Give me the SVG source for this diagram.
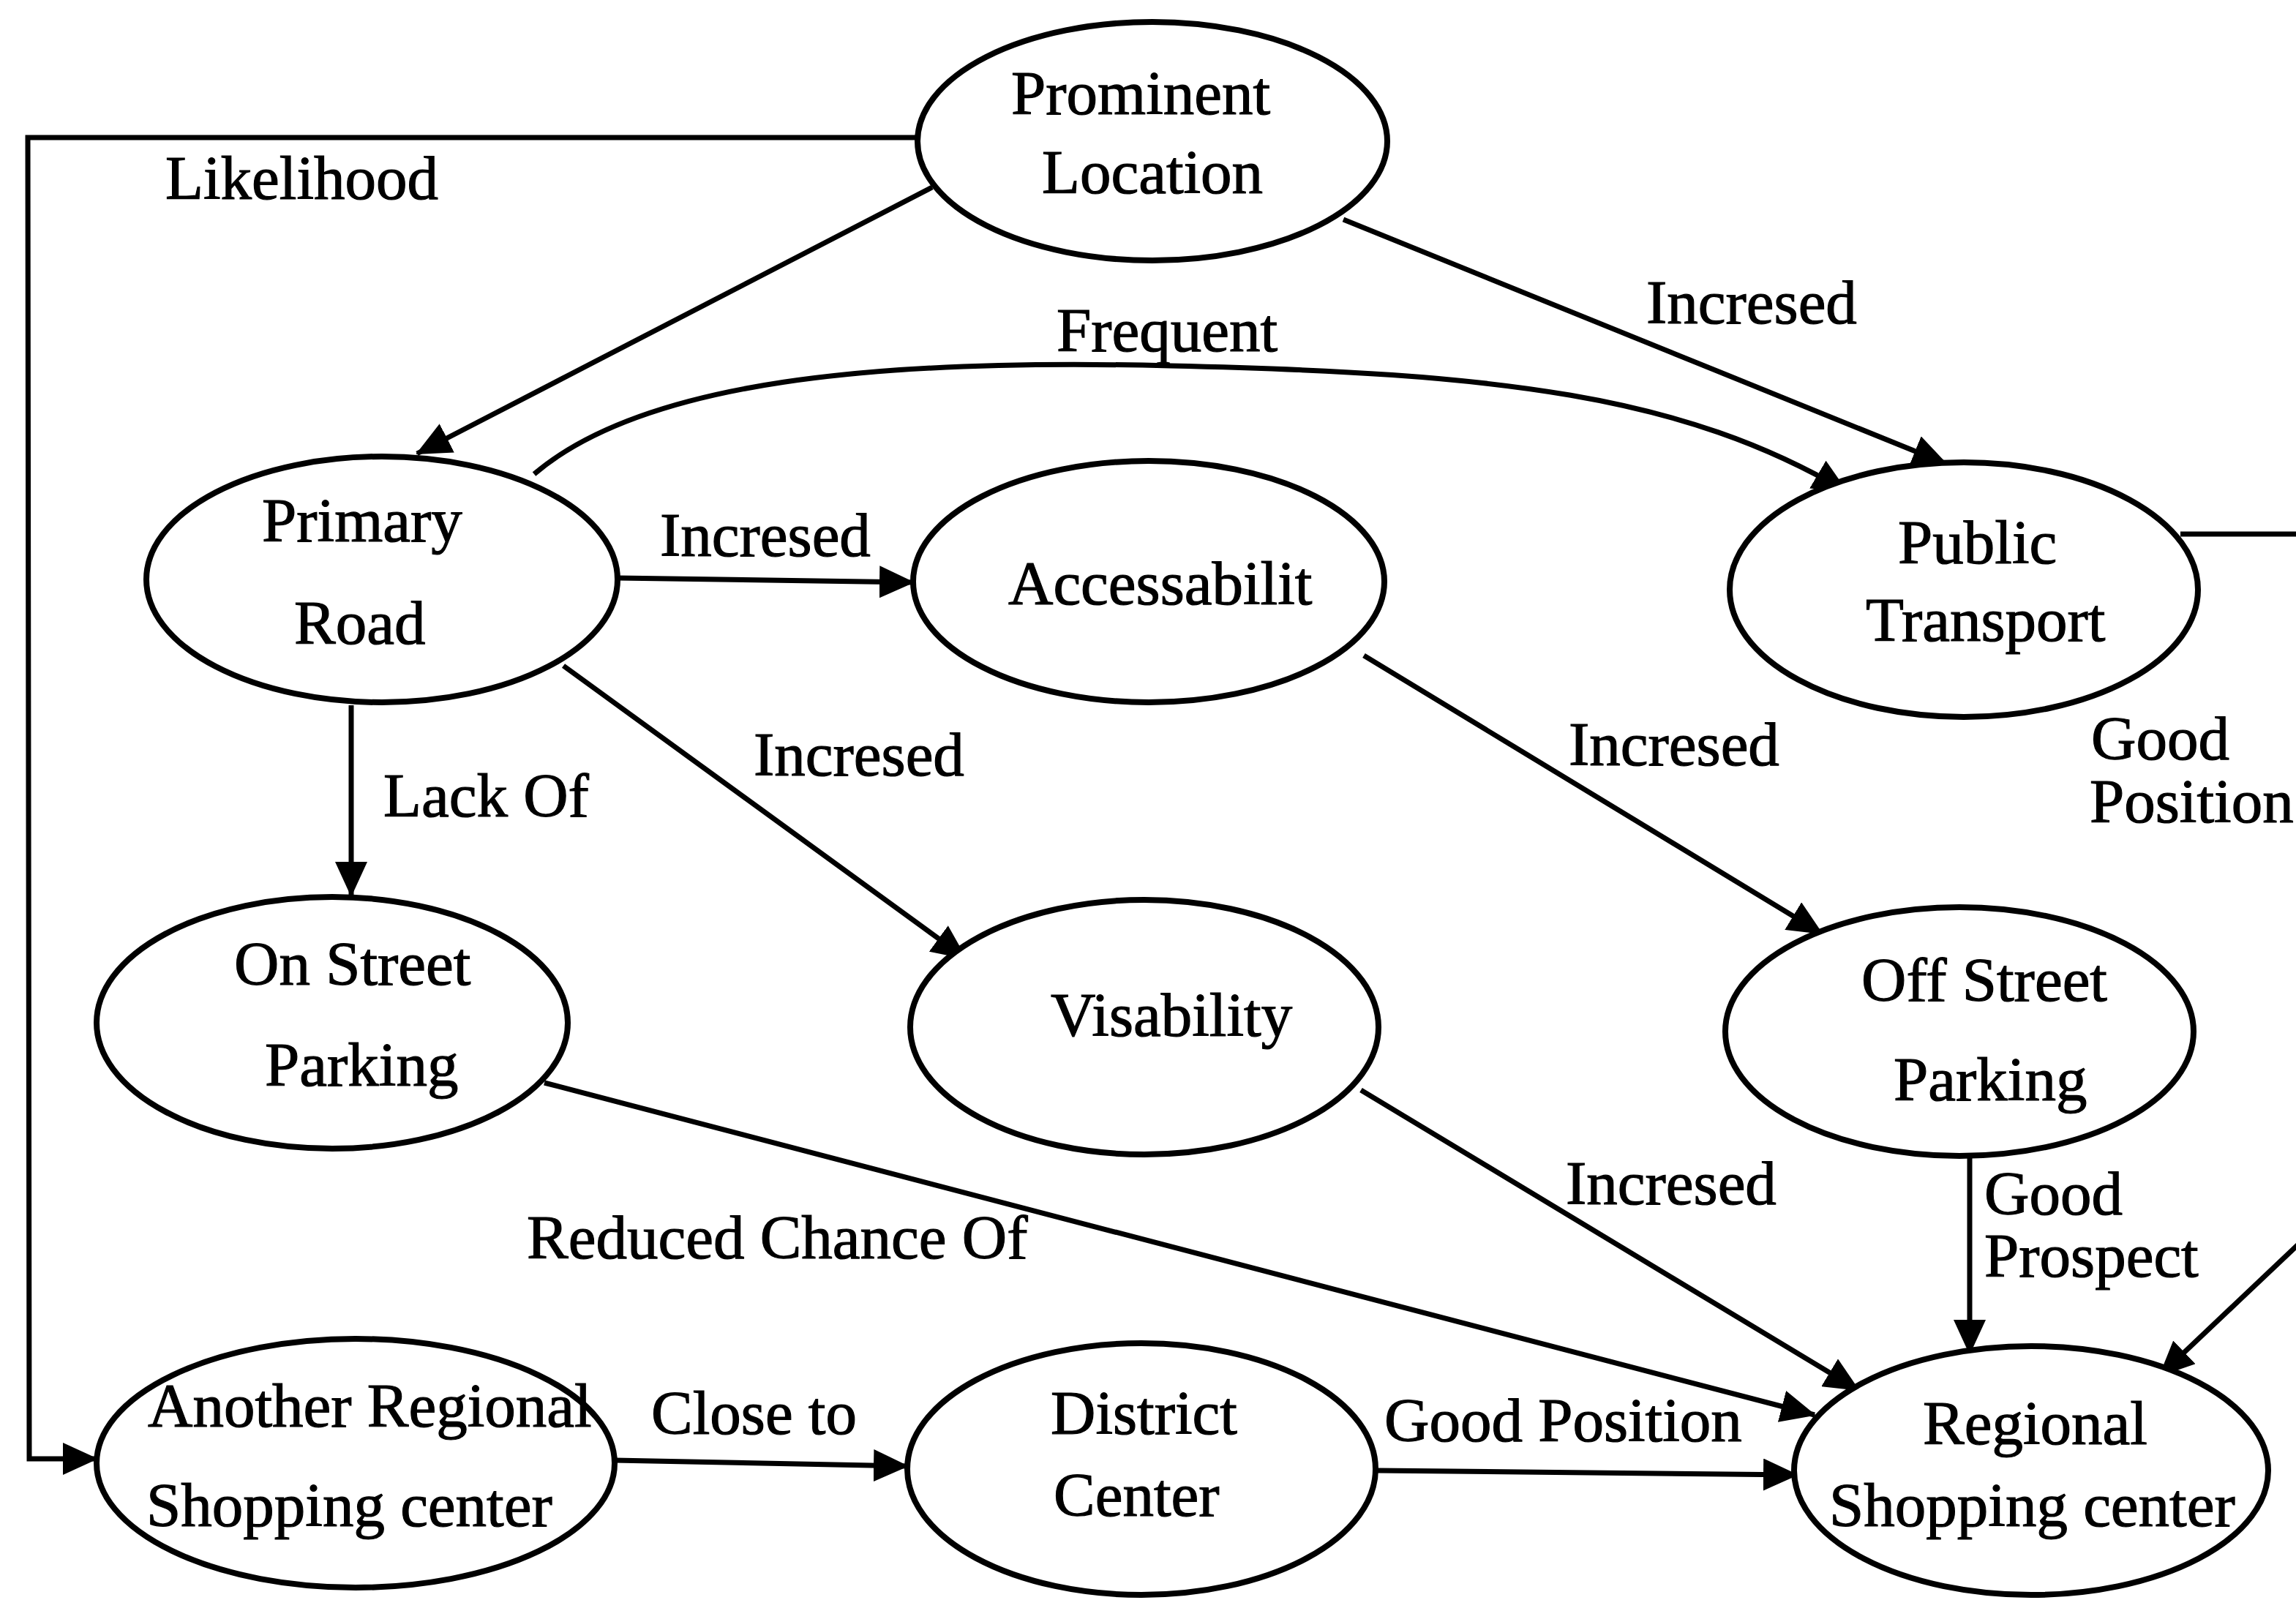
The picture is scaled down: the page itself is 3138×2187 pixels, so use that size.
<svg xmlns="http://www.w3.org/2000/svg" width="3138" height="2187" viewBox="0 0 3138 2187">
  <style>
    .node ellipse { fill: #fff; stroke: #000; stroke-width: 8; }
    text { font-family: "Liberation Serif", "Times New Roman", serif; font-size: 85px; fill: #000; stroke: #000; stroke-width: 1.2; }
    .edge { fill: none; stroke: #000; stroke-width: 7; }
  </style>
  <defs>
    <marker id="arrow" markerUnits="userSpaceOnUse" markerWidth="48" markerHeight="44" refX="46" refY="22" orient="auto">
      <path d="M0,0 L48,22 L0,44 Z" fill="#000"/>
    </marker>
  </defs>
  <rect width="3138" height="2187" fill="#fff"/>

  <!-- connectors -->
  <g id="connectors">
    <polyline class="edge" points="1254,188 38,188 40,1994 132,1994" marker-end="url(#arrow)"/>
    <line class="edge" x1="1274" y1="256" x2="570" y2="620" marker-end="url(#arrow)"/>
    <line class="edge" x1="1836" y1="300" x2="2660" y2="634" marker-end="url(#arrow)"/>
    <path class="edge" d="M730,648 C880,520 1200,490 1600,500 C2050,510 2300,540 2524,672" marker-end="url(#arrow)"/>
    <line class="edge" x1="844" y1="790" x2="1248" y2="796" marker-end="url(#arrow)"/>
    <line class="edge" x1="480" y1="964" x2="480" y2="1224" marker-end="url(#arrow)"/>
    <line class="edge" x1="770" y1="910" x2="1320" y2="1310" marker-end="url(#arrow)"/>
    <line class="edge" x1="1864" y1="896" x2="2490" y2="1276" marker-end="url(#arrow)"/>
    <polyline class="edge" points="2980,730 3160,730 3160,1683 2952,1880" marker-end="url(#arrow)"/>
    <line class="edge" x1="744" y1="1480" x2="2480" y2="1934" marker-end="url(#arrow)"/>
    <line class="edge" x1="1860" y1="1490" x2="2540" y2="1900" marker-end="url(#arrow)"/>
    <line class="edge" x1="2692" y1="1580" x2="2692" y2="1850" marker-end="url(#arrow)"/>
    <line class="edge" x1="840" y1="1996" x2="1240" y2="2004" marker-end="url(#arrow)"/>
    <line class="edge" x1="1882" y1="2010" x2="2456" y2="2016" marker-end="url(#arrow)"/>
  </g>

  <!-- connector labels -->
  <g id="labels">
    <text x="226" y="272">Likelihood</text>
    <text x="2250" y="442">Incresed</text>
    <text x="1444" y="480">Frequent</text>
    <text x="902" y="760">Incresed</text>
    <text x="1030" y="1060">Incresed</text>
    <text x="524" y="1116">Lack Of</text>
    <text x="2144" y="1046">Incresed</text>
    <text><tspan x="2858" y="1038">Good</tspan><tspan x="2856" y="1124">Position</tspan></text>
    <text x="2140" y="1646">Incresed</text>
    <text><tspan x="2712" y="1660">Good</tspan><tspan x="2712" y="1745">Prospect</tspan></text>
    <text x="720" y="1720">Reduced Chance Of</text>
    <text x="890" y="1960">Close to</text>
    <text x="1892" y="1970">Good Position</text>
  </g>

  <!-- nodes -->
  <g id="prominent-location" class="node">
    <ellipse cx="1575" cy="193" rx="321" ry="163"/>
    <text x="1382" y="156">Prominent</text>
    <text x="1424" y="264">Location</text>
  </g>
  <g id="primary-road" class="node">
    <ellipse cx="522" cy="792" rx="322" ry="168"/>
    <text x="358" y="740">Primary</text>
    <text x="402" y="880">Road</text>
  </g>
  <g id="accessability" class="node">
    <ellipse cx="1570" cy="795" rx="322" ry="165"/>
    <text x="1378" y="826">Accessabilit</text>
  </g>
  <g id="public-transport" class="node">
    <ellipse cx="2684" cy="806" rx="320" ry="174"/>
    <text x="2594" y="770">Public</text>
    <text x="2550" y="876">Transport</text>
  </g>
  <g id="on-street-parking" class="node">
    <ellipse cx="454" cy="1398" rx="322" ry="172"/>
    <text x="320" y="1346">On Street</text>
    <text x="362" y="1484">Parking</text>
  </g>
  <g id="visability" class="node">
    <ellipse cx="1564" cy="1404" rx="320" ry="174"/>
    <text x="1436" y="1416">Visability</text>
  </g>
  <g id="off-street-parking" class="node">
    <ellipse cx="2678" cy="1410" rx="320" ry="170"/>
    <text x="2544" y="1368">Off Street</text>
    <text x="2588" y="1504">Parking</text>
  </g>
  <g id="another-regional" class="node">
    <ellipse cx="486" cy="2000" rx="354" ry="170"/>
    <text x="202" y="1950">Another Regional</text>
    <text x="200" y="2086">Shopping center</text>
  </g>
  <g id="district-center" class="node">
    <ellipse cx="1560" cy="2008" rx="320" ry="172"/>
    <text x="1436" y="1960">District</text>
    <text x="1440" y="2072">Center</text>
  </g>
  <g id="regional-shopping" class="node">
    <ellipse cx="2776" cy="2010" rx="324" ry="170"/>
    <text x="2628" y="1974">Regional</text>
    <text x="2500" y="2086">Shopping center</text>
  </g>
</svg>
